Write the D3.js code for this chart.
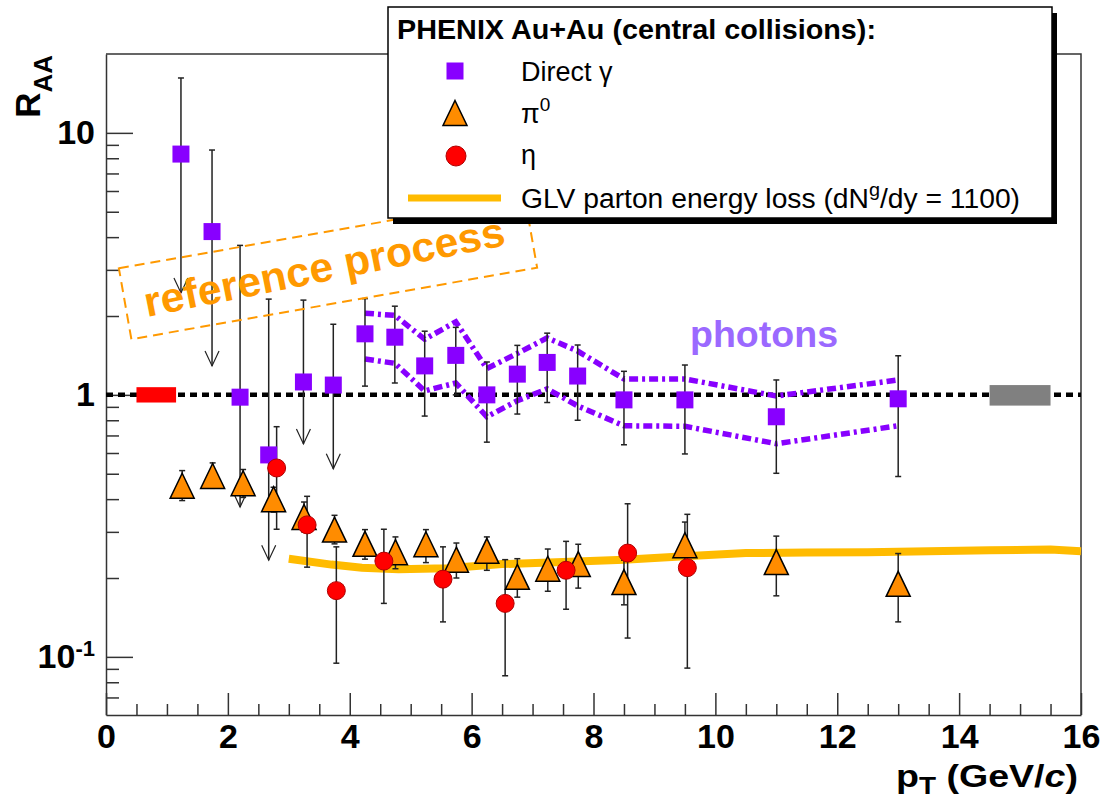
<!DOCTYPE html>
<html>
<head>
<meta charset="utf-8">
<script src="https://cdn.jsdelivr.net/npm/d3@7/dist/d3.min.js"></script>
<style>
body{margin:0;background:#fff;}
svg{display:block;}
text{font-family:"Liberation Sans",Arial,Helvetica,sans-serif;}
</style>
</head>
<body>
<svg id="chart" width="1102" height="802"></svg>
<script>
// ---------------- data ----------------
const xTickValues = [0,2,4,6,8,10,12,14,16];
const yTickValues = [0.1,1,10];
const yTickLabels = ["10","1","10"];

// Direct photons (first six are upper limits)
const gammaX   = [1.23,1.74,2.2,2.67,3.24,3.73,4.25,4.74,5.23,5.74,6.25,6.75,7.24,7.74,8.5,9.5,11,13];
const gammaY   = [8.3,4.2,0.98,0.59,1.12,1.09,1.71,1.66,1.29,1.415,1.0,1.2,1.33,1.18,0.957,0.957,0.825,0.966];
const gammaHi  = [16.2,8.6,3.72,2.32,2.3,1.86,2.33,2.18,1.75,1.81,1.335,1.545,1.72,1.55,1.23,1.30,1.14,1.41];
const gammaLo  = [2.45,1.29,0.373,0.234,0.65,0.522,1.08,1.11,0.83,1.0,0.66,0.845,0.935,0.80,0.645,0.595,0.502,0.488];
const gammaIsLimit = [true,true,true,true,true,true,false,false,false,false,false,false,false,false,false,false,false,false];

// Direct photon systematic band
const bandX  = [4.25,4.74,5.23,5.74,6.25,6.75,7.24,7.74,8.5,9.5,11,13];
const bandHi = [2.05,2.01,1.63,1.90,1.26,1.44,1.65,1.47,1.15,1.15,0.99,1.14];
const bandLo = [1.37,1.32,1.035,1.11,0.825,0.95,1.054,0.908,0.762,0.759,0.651,0.762];

// pi0
const pi0X  = [1.25,1.75,2.25,2.75,3.25,3.75,4.25,4.75,5.25,5.75,6.25,6.75,7.25,7.75,8.5,9.5,11,13];
const pi0Y  = [0.45,0.49,0.46,0.40,0.342,0.306,0.27,0.251,0.269,0.235,0.254,0.202,0.217,0.226,0.193,0.267,0.23,0.19];
const pi0Hi = [0.514,0.55,0.519,0.444,0.39,0.347,0.306,0.287,0.306,0.272,0.287,0.237,0.258,0.269,0.234,0.327,0.289,0.248];
const pi0Lo = [0.395,0.44,0.406,0.357,0.30,0.27,0.236,0.217,0.229,0.2,0.214,0.169,0.178,0.183,0.158,0.215,0.171,0.136];

// eta
const etaX  = [2.8,3.3,3.78,4.56,5.53,6.55,7.55,8.56,9.54];
const etaY  = [0.526,0.319,0.179,0.232,0.198,0.16,0.214,0.249,0.219];
const etaHi = [0.756,0.41,0.263,0.307,0.263,0.235,0.276,0.384,0.35];
const etaLo = [0.307,0.22,0.0946,0.16,0.136,0.0847,0.152,0.118,0.0906];

// GLV parton energy loss curve
const glvX = [3.0,3.7,4.2,4.8,5.6,6.5,7.5,8.5,9.5,10.5,11.5,12.5,13.5,14.5,15.5,16];
const glvY = [0.237,0.225,0.219,0.216,0.218,0.226,0.230,0.235,0.242,0.249,0.250,0.251,0.253,0.255,0.257,0.253];

// normalisation uncertainty boxes at R_AA = 1
const normX0 = [0.5,14.5];
const normX1 = [1.15,15.5];
const normLo = [0.935,0.91];
const normHi = [1.07,1.09];
const normColors = ["#ff0000","#808080"];

const legendTitle = "PHENIX Au+Au (central collisions):";

// ---------------- scales ----------------
const svg = d3.select("#chart");
const x = d3.scaleLinear().domain([0,16]).range([106,1081]);
const y = d3.scaleLog().domain([0.06,20]).range([715,54]);
const AX = "#333";
const PURPLE = "#8800ff", ORANGE = "#ff8c00", RED = "#ff0000", GLV = "#ffbb00";

// frame (top & right)
svg.append("path")
  .attr("d",`M${x(0)},${y(20)}H${x(16)}V${y(0.06)}`)
  .attr("fill","none").attr("stroke",AX).attr("stroke-width",1.5);

// x axis
const xMinor = d3.range(0.5,16,0.5).filter(v => v % 2 !== 0);
const gxm = svg.append("g").attr("transform",`translate(0,${y(0.06)})`)
  .call(d3.axisBottom(x).tickValues(xMinor).tickSize(-11).tickSizeOuter(0).tickFormat(""));
gxm.select(".domain").remove();
const gx = svg.append("g").attr("transform",`translate(0,${y(0.06)})`)
  .call(d3.axisBottom(x).tickValues(xTickValues).tickSize(-22).tickSizeOuter(0).tickPadding(9).tickFormat(d3.format("d")));

// y axis
const yMinor = [];
[0.01,0.1,1].forEach(dec => { for (let k=2;k<=9;k++){ const v=dec*k; if (v>0.06 && v<20) yMinor.push(v);} });
const gym = svg.append("g").attr("transform",`translate(${x(0)},0)`)
  .call(d3.axisLeft(y).tickValues(yMinor).tickSize(-13).tickSizeOuter(0).tickFormat(""));
gym.select(".domain").remove();
const gy = svg.append("g").attr("transform",`translate(${x(0)},0)`)
  .call(d3.axisLeft(y).tickValues(yTickValues).tickSize(-27).tickSizeOuter(0).tickPadding(11)
        .tickFormat((d,i) => yTickLabels[i]));
gy.selectAll(".tick text").filter(d => d === 0.1).each(function(){
  const t = d3.select(this);
  t.text(null);
  t.append("tspan").text("10");
  t.append("tspan").attr("dy","-0.55em").attr("font-size",22).text("-1");
});

[gx,gxm,gy,gym].forEach(g => {
  g.selectAll(".domain").attr("stroke",AX).attr("stroke-width",1.5);
  g.selectAll(".tick line").attr("stroke",AX).attr("stroke-width",1.5);
  g.selectAll(".tick text").attr("fill","#000").attr("font-size",34).attr("font-weight","bold");
});

// axis titles
svg.append("text").attr("x",1078).attr("y",787).attr("text-anchor","end")
  .attr("font-size",31).attr("font-weight","bold")
  .attr("textLength",182).attr("lengthAdjust","spacingAndGlyphs")
  .call(t => {
    t.append("tspan").text("p");
    t.append("tspan").attr("dy",7).attr("font-size",23).text("T");
    t.append("tspan").attr("dy",-7).text(" (GeV/");
    t.append("tspan").attr("font-style","italic").text("c");
    t.append("tspan").text(")");
  });
svg.append("text").attr("transform","translate(40,55) rotate(-90)").attr("text-anchor","end")
  .attr("font-weight","bold").attr("font-size",35)
  .call(t => {
    t.append("tspan").text("R");
    t.append("tspan").attr("dy",12).attr("font-size",26).text("AA");
  });

// ---------------- plot content ----------------
const plot = svg.append("g");

// reference line at 1
plot.append("line").attr("x1",x(0)).attr("x2",x(16)).attr("y1",y(1)).attr("y2",y(1))
  .attr("stroke","#000").attr("stroke-width",4.5).attr("stroke-dasharray","7,5");

// normalisation boxes
plot.selectAll("rect.norm").data(normX0).join("rect").attr("class","norm")
  .attr("x",(d,i)=>x(normX0[i])).attr("width",(d,i)=>x(normX1[i])-x(normX0[i]))
  .attr("y",(d,i)=>y(normHi[i])).attr("height",(d,i)=>y(normLo[i])-y(normHi[i]))
  .attr("fill",(d,i)=>normColors[i]);

// GLV curve
plot.append("path").datum(glvX.map((v,i)=>[v,glvY[i]]))
  .attr("d", d3.line().x(d=>x(d[0])).y(d=>y(d[1])))
  .attr("fill","none").attr("stroke",GLV).attr("stroke-width",8);

// photon systematic band
[bandHi,bandLo].forEach(arr => {
  plot.append("path").datum(bandX.map((v,i)=>[v,arr[i]]))
    .attr("d", d3.line().x(d=>x(d[0])).y(d=>y(d[1])))
    .attr("fill","none").attr("stroke",PURPLE).attr("stroke-width",5.5)
    .attr("stroke-dasharray","9,4,3,4");
});

// error bars
const eb = plot.append("g").attr("stroke","#222").attr("stroke-width",1.5).attr("fill","none");
function errorBars(xs, ys, hi, lo, limits){
  xs.forEach((xv,i)=>{
    const cx = x(xv), yh = y(hi[i]), yl = y(lo[i]);
    eb.append("line").attr("x1",cx).attr("x2",cx).attr("y1",yh).attr("y2",yl);
    eb.append("line").attr("x1",cx-3).attr("x2",cx+3).attr("y1",yh).attr("y2",yh);
    if (limits && limits[i]) {
      eb.append("path").attr("stroke-width",1.2)
        .attr("d",`M${cx-7},${yl-15}L${cx},${yl}L${cx+7},${yl-15}`);
    } else {
      eb.append("line").attr("x1",cx-3).attr("x2",cx+3).attr("y1",yl).attr("y2",yl);
    }
  });
}
errorBars(gammaX,gammaY,gammaHi,gammaLo,gammaIsLimit);
errorBars(pi0X,pi0Y,pi0Hi,pi0Lo,null);
errorBars(etaX,etaY,etaHi,etaLo,null);

// markers
const triPath = "M0,-12.5L12,12.5L-12,12.5Z";
plot.selectAll("rect.gamma").data(gammaX).join("rect").attr("class","gamma")
  .attr("x",d=>x(d)-8.5).attr("y",(d,i)=>y(gammaY[i])-8.5).attr("width",17).attr("height",17)
  .attr("fill",PURPLE);
plot.selectAll("path.pi0").data(pi0X).join("path").attr("class","pi0")
  .attr("transform",(d,i)=>`translate(${x(d)},${y(pi0Y[i])})`).attr("d",triPath)
  .attr("fill",ORANGE).attr("stroke","#000").attr("stroke-width",1.5).attr("stroke-linejoin","miter");
plot.selectAll("circle.eta").data(etaX).join("circle").attr("class","eta")
  .attr("cx",d=>x(d)).attr("cy",(d,i)=>y(etaY[i])).attr("r",9)
  .attr("fill",RED).attr("stroke","#b00000").attr("stroke-width",1);

// annotations
const ann = svg.append("g").attr("transform","translate(328,268) rotate(-10)");
ann.append("rect").attr("x",-206).attr("y",-36).attr("width",412).attr("height",72)
  .attr("fill","none").attr("stroke","#ff9900").attr("stroke-width",2).attr("stroke-dasharray","10,6");
svg.append("text").attr("transform","translate(327,281) rotate(-11.3)").attr("text-anchor","middle")
  .attr("font-size",42).attr("font-weight","bold").attr("fill","#ff9900")
  .attr("textLength",367).attr("lengthAdjust","spacingAndGlyphs").text("reference process");
svg.append("text").attr("x",690).attr("y",347).attr("font-size",37).attr("font-weight","bold")
  .attr("fill","#9b69ff").attr("textLength",148).attr("lengthAdjust","spacingAndGlyphs").text("photons");

// ---------------- legend ----------------
const lg = svg.append("g");
lg.append("rect").attr("x",393).attr("y",13).attr("width",664).attr("height",211).attr("fill","#000");
lg.append("rect").attr("x",388).attr("y",7).attr("width",664).attr("height",211)
  .attr("fill","#fff").attr("stroke","#000").attr("stroke-width",1.5);
lg.append("text").attr("x",397).attr("y",39).attr("font-size",28).attr("font-weight","bold")
  .attr("textLength",479).attr("lengthAdjust","spacingAndGlyphs").text(legendTitle);
const rowY = [71,113,156,198];
lg.append("rect").attr("x",455-8.5).attr("y",rowY[0]-8.5).attr("width",17).attr("height",17).attr("fill",PURPLE);
lg.append("path").attr("transform",`translate(455,${rowY[1]})`).attr("d",triPath)
  .attr("fill",ORANGE).attr("stroke","#000").attr("stroke-width",1.5);
lg.append("circle").attr("cx",456).attr("cy",rowY[2]).attr("r",10).attr("fill",RED).attr("stroke","#b00000");
lg.append("line").attr("x1",408).attr("x2",501).attr("y1",rowY[3]).attr("y2",rowY[3]).attr("stroke",GLV).attr("stroke-width",7);
const lx = 521, fs = 27;
lg.append("text").attr("x",lx).attr("y",rowY[0]+9.5).attr("font-size",fs).text("Direct γ");
lg.append("text").attr("x",lx).attr("y",rowY[1]+9.5).attr("font-size",fs)
  .call(t=>{ t.append("tspan").text("π"); t.append("tspan").attr("dy",-12).attr("font-size",19).text("0"); });
lg.append("text").attr("x",lx).attr("y",rowY[2]+8).attr("font-size",fs).text("η");
lg.append("text").attr("x",lx).attr("y",rowY[3]+9.5).attr("font-size",fs)
  .attr("textLength",499).attr("lengthAdjust","spacingAndGlyphs")
  .call(t=>{
    t.append("tspan").text("GLV parton energy loss (dN");
    t.append("tspan").attr("dy",-12).attr("font-size",19).text("g");
    t.append("tspan").attr("dy",12).text("/dy = 1100)");
  });
</script>
</body>
</html>
